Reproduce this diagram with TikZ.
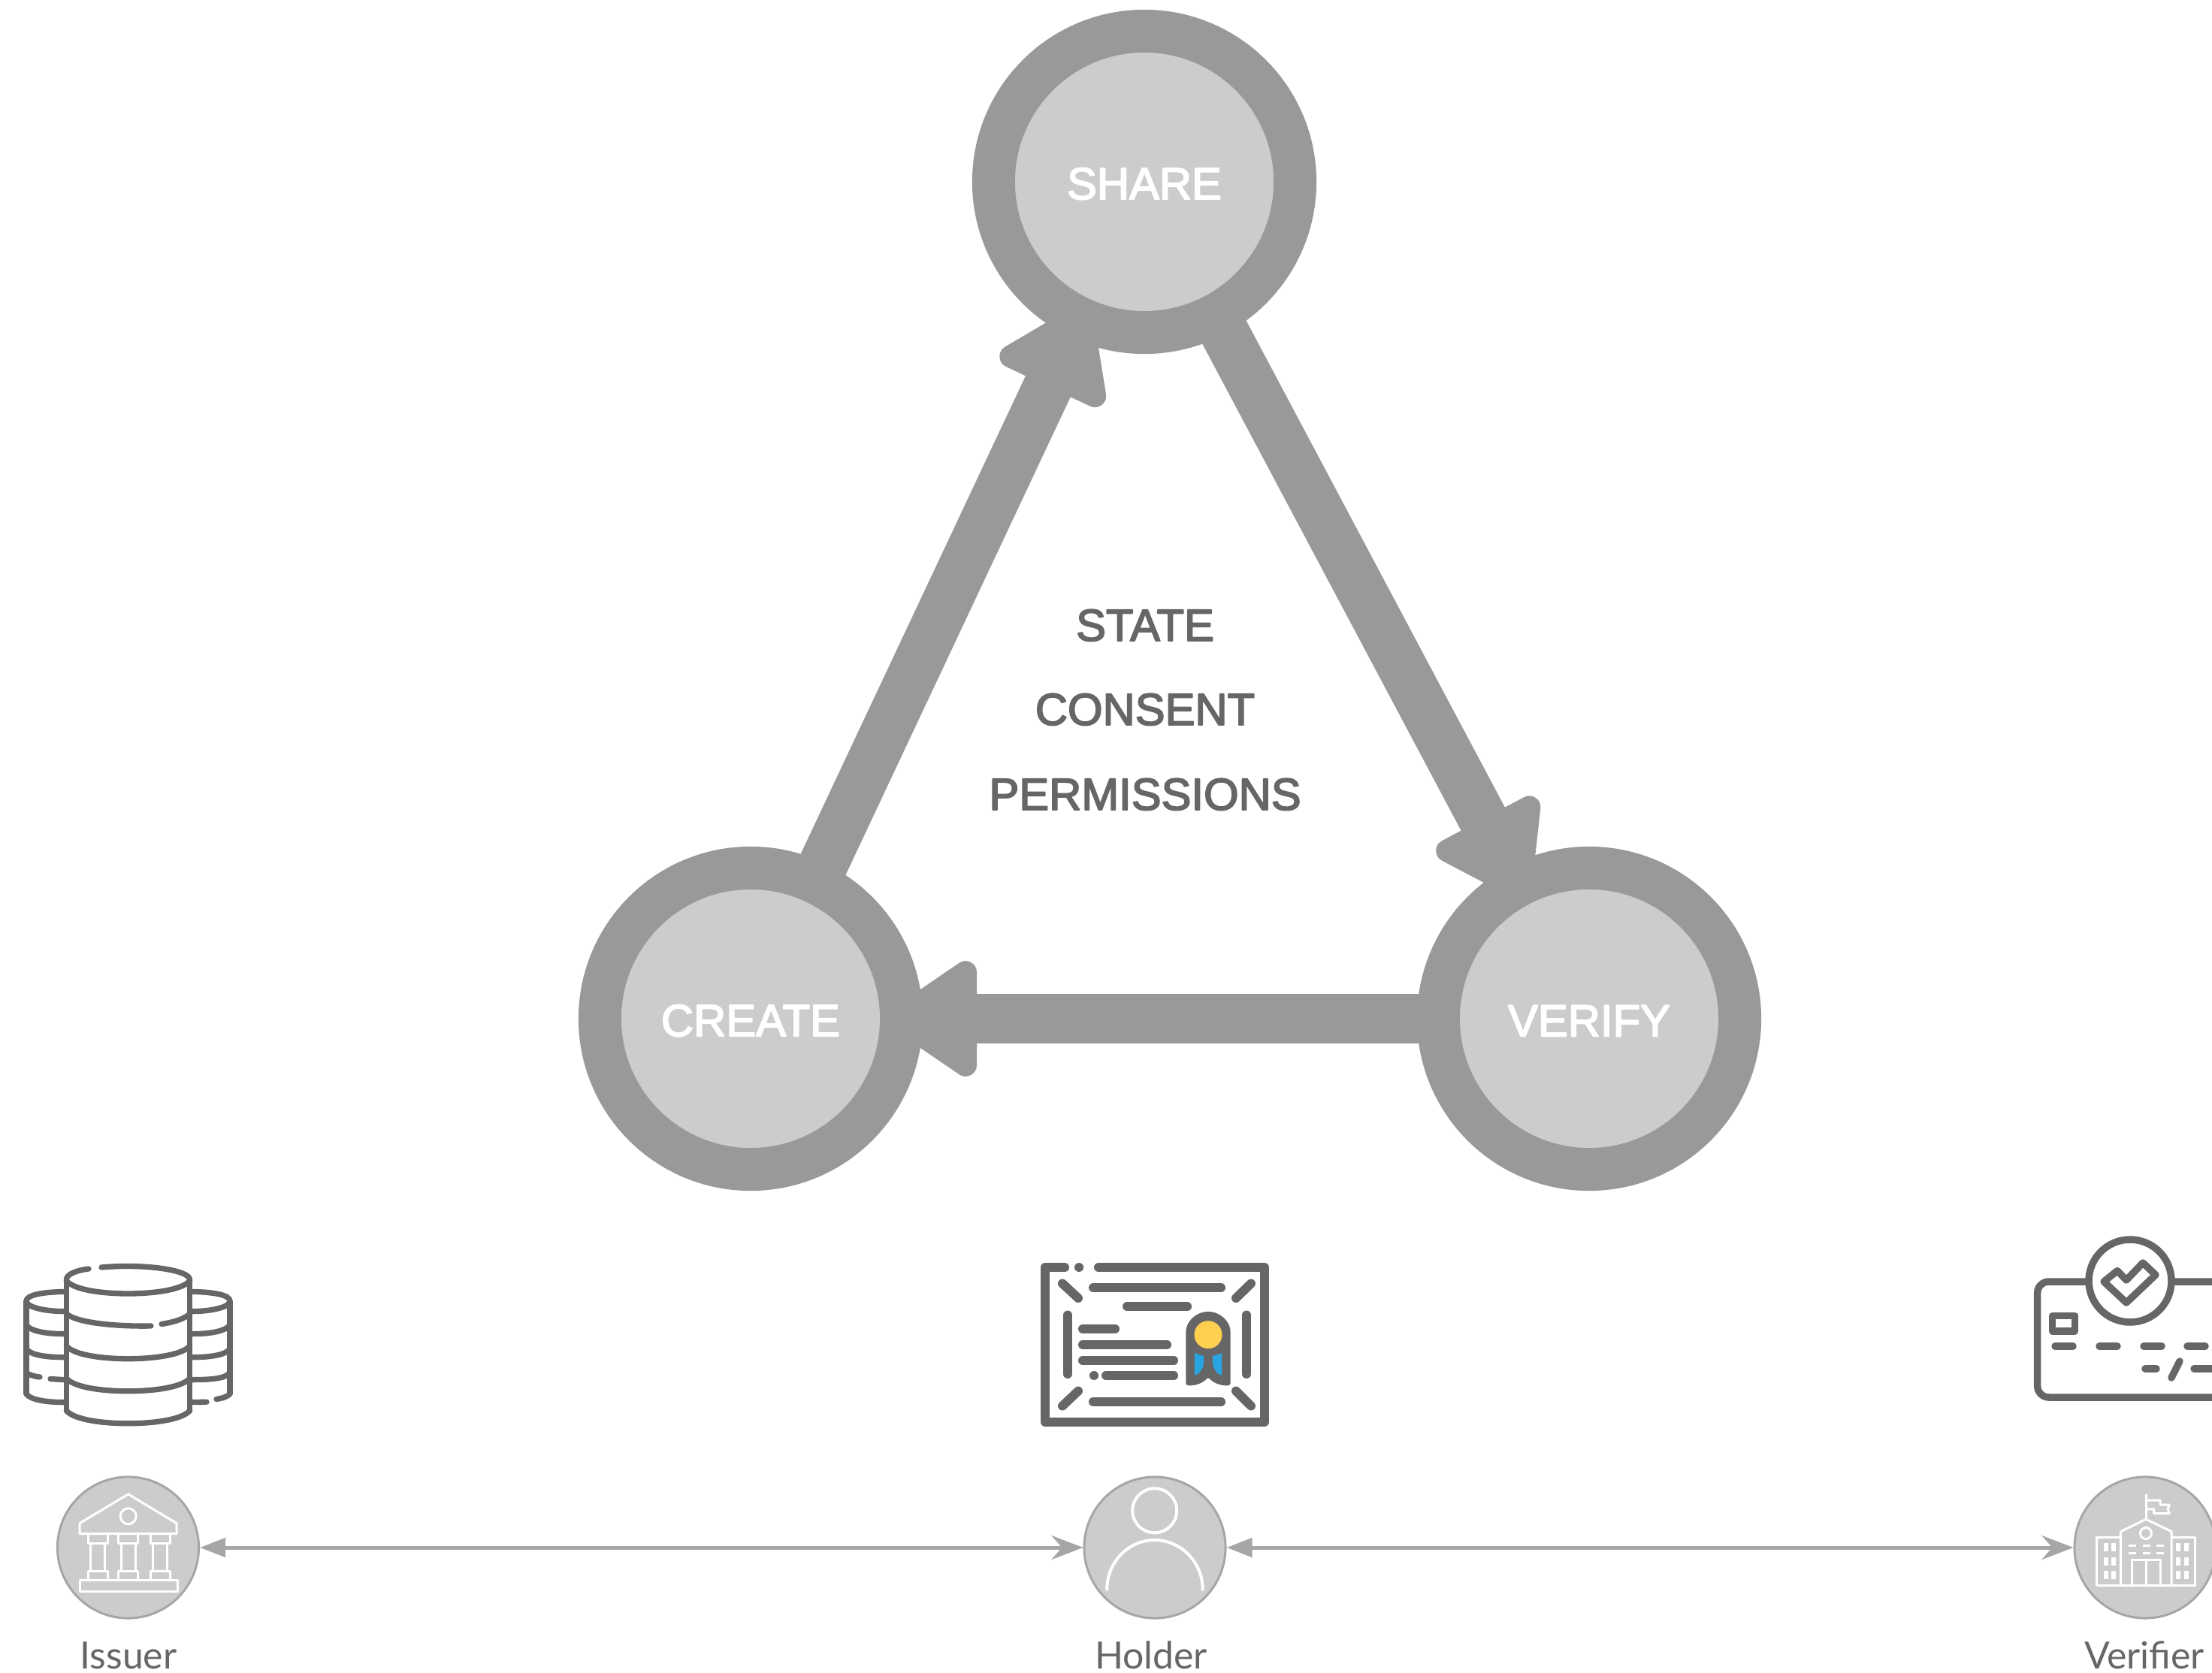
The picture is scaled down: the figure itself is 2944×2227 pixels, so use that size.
\documentclass[tikz,border=0pt]{standalone}
\usepackage{fontspec}
\usetikzlibrary{arrows.meta}
\setmainfont{Liberation Sans}
\newfontfamily\statefont{Liberation Sans}[FakeBold=3]
\newfontfamily\peerfont{Lato}
\definecolor{ringgray}{HTML}{999999}
\definecolor{innergray}{HTML}{CCCCCC}
\definecolor{linegray}{HTML}{A6A6A6}
\definecolor{icongray}{HTML}{666666}
\definecolor{sealyellow}{HTML}{FFD050}
\definecolor{sealblue}{HTML}{27A5E0}

\begin{document}
\begin{tikzpicture}[x=0.01cm,y=-0.01cm,line join=round]
    \tikzstyle{state}=[circle,draw=ringgray,fill=innergray,line width=0.57cm,minimum size=4.01cm,inner sep=0pt,outer sep=0pt,text=white,text height=0.47cm,font=\statefont\fontsize{17}{20}\selectfont]
    \tikzstyle{flow}=[draw=ringgray,line width=0.66cm,shorten >=-0.2cm,-{Triangle[length=1.33cm,width=1.72cm,round,line width=0.3cm]}]
    \tikzstyle{caption}=[anchor=base,text=icongray,font=\statefont\fontsize{17}{20}\selectfont]
    \tikzstyle{peer}=[circle,draw=linegray,fill=innergray,line width=0.03cm,minimum size=1.88cm,inner sep=0pt]
    \tikzstyle{peername}=[anchor=base,text=icongray,font=\peerfont\fontsize{14.2}{16}\selectfont]
    \tikzstyle{link}=[draw=linegray,line width=0.05cm,{Triangle[length=0.34cm,width=0.25cm]}-{Stealth[length=0.42cm,width=0.32cm,inset=0.14cm]}]
    \tikzstyle{icon}=[draw=icongray,line width=0.073cm,line cap=round]
    \tikzstyle{cert}=[draw=icongray,line width=0.12cm,line cap=round]
    \tikzstyle{card}=[draw=icongray,line width=0.095cm,line cap=round]
    \tikzstyle{glyph}=[draw=white,line width=0.03cm]

    \clip (0,0) rectangle (2944,2227);

    \foreach \name/\x/\y/\txt in {share/1523/242/SHARE, create/999/1356/CREATE, verify/2115/1356/VERIFY}
        \node[state] (S-\name) at (\x,\y) {\txt};

    \foreach \from/\to in {create/share, share/verify, verify/create}
        \draw[flow] (S-\from) -- (S-\to);

    \foreach \y/\txt in {853/STATE, 965/CONSENT, 1078/PERMISSIONS}
        \node[caption] (T-\txt) at (1524,\y) {\txt};

    \foreach \name/\x/\lx/\txt in {issuer/170.5/171/Issuer, holder/1537/1532/Holder, verifier/2855/2854/Verifier} {
        \node[peer] (P-\name) at (\x,2060) {};
        \node[peername] (N-\name) at (\lx,2221) {\txt};
    }

    \draw[link] (P-issuer) -- (P-holder);
    \draw[link] (P-holder) -- (P-verifier);

    % database
    \draw[icon] (88.3,1703.7) -- (88.3,1877.8);
    \draw[icon] (252.7,1703.7) -- (252.7,1877.8);
    \draw[icon] (88.3,1703.7) .. controls (88.3,1696) and (102,1691) .. (118,1689);
    \draw[icon] (135,1687) .. controls (190,1682) and (252.7,1690) .. (252.7,1703.7);
    \foreach \y in {1705,1791.7,1834.8,1877.8}
        \draw[icon] (88.3,\y) .. controls (100,\y+13) and (140,\y+17) .. (170.5,\y+17) .. controls (200,\y+17) and (241,\y+13) .. (252.7,\y);
    \draw[icon] (88.3,1748.6) .. controls (100,1760) and (150,1766) .. (201,1765);
    \draw[icon] (215,1762.5) .. controls (232,1760) and (247,1755) .. (252.7,1748.6);
    \draw[icon] (35,1732) -- (35,1855.4);
    \draw[icon] (306,1732) -- (306,1855.4);
    \draw[icon] (85,1719.4) .. controls (55,1720) and (35,1724) .. (35,1732) .. controls (35,1740) and (60,1745.6) .. (85,1745.6);
    \draw[icon] (256,1719.4) .. controls (286,1720) and (306,1724) .. (306,1732) .. controls (306,1740) and (281,1745.6) .. (256,1745.6);
    \foreach \a/\b in {1763.6/1775.6,1795.4/1806.7}{
        \draw[icon] (35,\a) .. controls (40,\a+8) and (60,\b) .. (85,\b);
        \draw[icon] (306,\a) .. controls (301,\a+8) and (281,\b) .. (256,\b);
    }
    \draw[icon] (35,1827) .. controls (38,1830) and (45,1832) .. (53,1833);
    \draw[icon] (67,1835.5) -- (85,1836.6);
    \draw[icon] (306,1827) .. controls (301,1835) and (281,1836.6) .. (256,1836.6);
    \draw[icon] (35,1855.4) .. controls (40,1863) and (60,1866.6) .. (85,1866.6);
    \draw[icon] (256,1866.6) -- (275,1866.2);
    \draw[icon] (288,1862.5) .. controls (297,1861) and (303,1859) .. (306,1855.4);

    % certificate
    \draw[cert] (1417,1687) -- (1391,1687) -- (1391,1893) -- (1683,1893) -- (1683,1687) -- (1462,1687);
    \draw[cert] (1436,1687) -- (1436.1,1687);
    \foreach \xa/\xb/\y in {1455/1625/1714,1500/1580/1739,1441/1484/1769,1441/1553/1790,1441/1562/1811,1472/1562/1831,1456/1456.1/1831,1455/1625/1866}
        \draw[cert] (\xa,\y) -- (\xb,\y);
    \foreach \x in {1421,1659}
        \draw[cert] (\x,1750.5) -- (\x,1829);
    \draw[cert] (1414,1708.5) -- (1435,1728);
    \draw[cert] (1665,1708.5) -- (1645,1728);
    \draw[cert] (1435,1851.6) -- (1414,1871.5);
    \draw[cert] (1645,1851.6) -- (1665,1871.5);
    \fill[icongray,rounded corners=0.03cm] (1578.3,1844) -- (1578.3,1776) arc[start angle=180,end angle=0,x radius=29.7,y radius=-30] -- (1637.7,1844) .. controls (1625,1845) and (1615,1841) .. (1608,1833) .. controls (1601,1841) and (1591,1845) .. (1578.3,1844) -- cycle;
    \fill[sealyellow] (1608,1776.7) circle[radius=18.5];
    \fill[sealblue] (1590,1801) .. controls (1594,1803) and (1598,1804) .. (1602,1805) -- (1602,1815) .. controls (1601,1823) and (1596,1829) .. (1590,1831) -- cycle;
    \fill[sealblue] (1626,1801) .. controls (1622,1803) and (1618,1804) .. (1614,1805) -- (1614,1815) .. controls (1615,1823) and (1620,1829) .. (1626,1831) -- cycle;

    % card
    \draw[card,rounded corners=0.15cm] (3000,1706) -- (2711.7,1706) -- (2711.7,1860) -- (3000,1860);
    \draw[card,fill=white] (2835,1705) circle[radius=55];
    \draw[card] (2800,1706) -- (2818,1691.6) -- (2830,1704) -- (2852,1681) -- (2869,1697) -- (2830,1734) -- cycle;
    \draw[card] (2731.7,1751.5) rectangle (2761.7,1772);
    \foreach \xa/\xb in {2735/2759,2794/2818,2853/2877,2911/2935}
        \draw[card] (\xa,1792) -- (\xb,1792);
    \draw[card] (2855,1822) -- (2870,1822);
    \draw[card] (2901,1812) -- (2890,1834);
    \draw[card] (2920,1822) -- (2960,1822);

    % bank
    \draw[glyph] (106,2041.5) -- (106,2027.6) -- (170.7,1989) -- (235,2027.6) -- (235,2041.5) -- cycle;
    \draw[glyph] (170.7,2018.3) circle[radius=10.5];
    \foreach \x in {130,170.7,213} {
        \draw[glyph] (\x-13,2041.5) rectangle (\x+13,2054);
        \draw[glyph] (\x-9.3,2054) rectangle (\x+9.3,2091);
        \draw[glyph] (\x-13,2091) rectangle (\x+13,2103);
    }
    \draw[glyph] (106,2103) rectangle (236,2118.6);

    % person
    \draw[glyph,line width=0.04cm] (1536.7,2010.8) circle[radius=29.5];
    \draw[glyph,line width=0.04cm,line cap=round] (1473.3,2115.6) .. controls (1473.3,2079) and (1502,2050) .. (1536.7,2050) .. controls (1571,2050) and (1600.7,2079) .. (1600.7,2115.6);

    % school
    \draw[glyph] (2790.7,2110.5) -- (2790.7,2046.7) -- (2822.7,2046.7);
    \draw[glyph] (2921.7,2110.5) -- (2921.7,2046.7) -- (2890,2046.7);
    \draw[glyph] (2790.7,2110.5) -- (2921.7,2110.5);
    \draw[glyph] (2822.7,2110.5) -- (2822.7,2038.6) -- (2856,2022.3) -- (2890,2038.6) -- (2890,2110.5);
    \draw[glyph] (2856,2022.3) -- (2856,1989.4);
    \draw[glyph] (2856,1997) -- (2875,1997) -- (2875,2003) -- (2887.3,2003) -- (2885,2008.8) -- (2887.3,2014.6) -- (2866.7,2014.6) -- (2866.7,2008.8) -- (2856,2008.8);
    \draw[glyph] (2856,2041) circle[radius=7.5];
    \foreach \y in {2057,2067.6} \foreach \x in {2833,2852,2870}
        \draw[glyph] (\x,\y) -- (\x+10,\y);
    \draw[glyph] (2837.3,2110.5) -- (2837.3,2076.5) -- (2875,2076.5) -- (2875,2110.5);
    \draw[glyph] (2856,2076.5) -- (2856,2110.5);
    \foreach \x in {2800,2810,2896,2907} \foreach \y in {2054,2073,2091}
        \fill[white] (\x,\y) rectangle (\x+6,\y+10.5);
\end{tikzpicture}
\end{document}
